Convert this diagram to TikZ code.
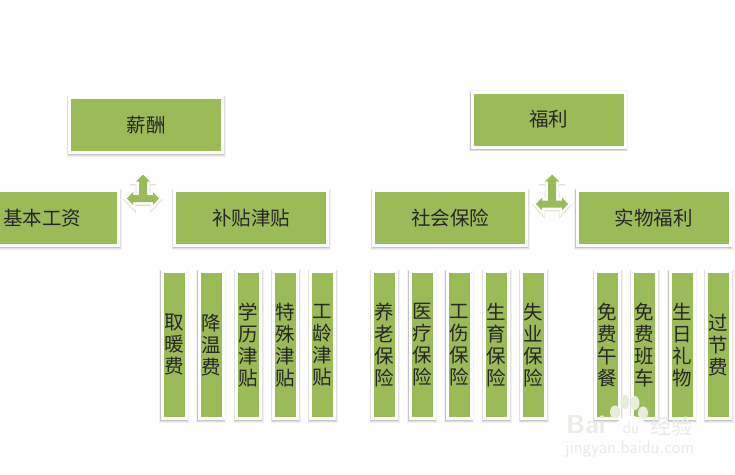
\documentclass[tikz,border=0pt]{standalone}
\usepackage{fontspec}
\usetikzlibrary{shadows}
\newfontfamily\cjk{Noto Sans CJK SC}
\definecolor{boxgreen}{HTML}{9BBB59}
\definecolor{wm}{HTML}{E9ECE5}
\definecolor{wmpad}{HTML}{E7EEDB}
\tikzset{
  x=1pt,y=-1pt,
  softshadow/.style={
    general shadow={shadow xshift=0pt,shadow yshift=-1.2pt,draw=black,fill=none,line width=6pt,opacity=.05},
    general shadow={shadow xshift=0pt,shadow yshift=-1.2pt,draw=black,fill=none,line width=4.6pt,opacity=.07},
    general shadow={shadow xshift=0pt,shadow yshift=-1.2pt,draw=black,fill=none,line width=3.4pt,opacity=.12}},
  card/.style={rectangle,fill=boxgreen,draw=white,line width=3pt,inner sep=0pt,
    font=\cjk\fontsize{19.5}{22}\selectfont,text=black!85,align=center,softshadow},
  wide/.style={card,minimum width=153pt,minimum height=55pt},
  tall/.style={card,minimum width=24pt,minimum height=147pt},
  teeback/.style={draw=white,fill=white,line width=5pt,line join=miter,
    general shadow={shadow xshift=0pt,shadow yshift=-1pt,draw=black,fill=none,line width=5.5pt,opacity=.14}},
  teefront/.style={fill=boxgreen},
  mark text/.style={text=wm,inner sep=0pt}
}
\newcommand{\teeshape}[3]{% x, top y, bar y
  (#1,#2) -- (#1+7,#2+7) -- (#1+4,#2+7) -- (#1+4,#3-3.5) -- (#1+10,#3-3.5) -- (#1+10,#3-6.5) -- (#1+16,#3)
    -- (#1+10,#3+6.5) -- (#1+10,#3+3.5) -- (#1-10,#3+3.5) -- (#1-10,#3+6.5) -- (#1-16,#3) -- (#1-10,#3-6.5)
    -- (#1-10,#3-3.5) -- (#1-4,#3-3.5) -- (#1-4,#2+7) -- (#1-7,#2+7) -- cycle}
\begin{document}
\begin{tikzpicture}
\useasboundingbox (0,0) rectangle (735,474);
\clip (0,0) rectangle (735,474);
\fill[white] (0,0) rectangle (735,474);
% top and second level
\node[wide] (xinchou) at (146,125) {薪酬};
\node[wide] (fuli) at (548.5,119.5) {福利};
\node[wide] (jiben) at (42,218) {基本工资};
\node[wide] (butie) at (251,218) {补贴津贴};
\node[wide] (shebao) at (450,218) {社会保险};
\node[wide] (shiwu) at (653.5,218) {实物福利};
% T-shaped block arrows
\path[teeback] \teeshape{143}{174.5}{198.5};
\path[teefront] \teeshape{143}{174.5}{198.5};
\path[teeback] \teeshape{552}{174.5}{204};
\path[teefront] \teeshape{552}{174.5}{204};
% columns
\node[tall] (c1) at (174,345) {取\\暖\\费};
\node[tall] (c2) at (211,345) {降\\温\\费};
\node[tall] (c3) at (248.5,345) {学\\历\\津\\贴};
\node[tall] (c4) at (285.5,345) {特\\殊\\津\\贴};
\node[tall] (c5) at (322.5,345) {工\\龄\\津\\贴};
\node[tall] (c6) at (384.5,345) {养\\老\\保\\险};
\node[tall] (c7) at (422,345) {医\\疗\\保\\险};
\node[tall] (c8) at (459,345) {工\\伤\\保\\险};
\node[tall] (c9) at (496.5,345) {生\\育\\保\\险};
\node[tall] (c10) at (533.5,345) {失\\业\\保\\险};
\node[tall] (c11) at (607.5,345) {免\\费\\午\\餐};
\node[tall] (c12) at (644.5,345) {免\\费\\班\\车};
\node[tall] (c13) at (682,345) {生\\日\\礼\\物};
\node[tall] (c14) at (718.5,345) {过\\节\\费};
% watermark
\fill[wmpad] (615,412) ellipse (5 and 6.5);
\fill[wmpad] (625,402) ellipse (4.5 and 7);
\fill[wmpad] (635,403) ellipse (4.5 and 7);
\fill[wmpad] (643,413) ellipse (5 and 6.5);
\fill[white] (631,426) ellipse (15 and 10);
\node[mark text,font=\sffamily\bfseries\fontsize{26}{26}\selectfont,anchor=west] (mkb) at (566,425) {Bai};
\node[mark text,font=\sffamily\fontsize{17}{17}\selectfont,anchor=center] (mkd) at (631,428) {du};
\node[mark text,font=\cjk\fontsize{21}{21}\selectfont,anchor=west] (mkj) at (650,426) {经验};
\node[mark text,font=\sffamily\fontsize{18.3}{18}\selectfont,anchor=west] (mku) at (565,449) {jingyan.baidu.com};
\end{tikzpicture}
\end{document}
